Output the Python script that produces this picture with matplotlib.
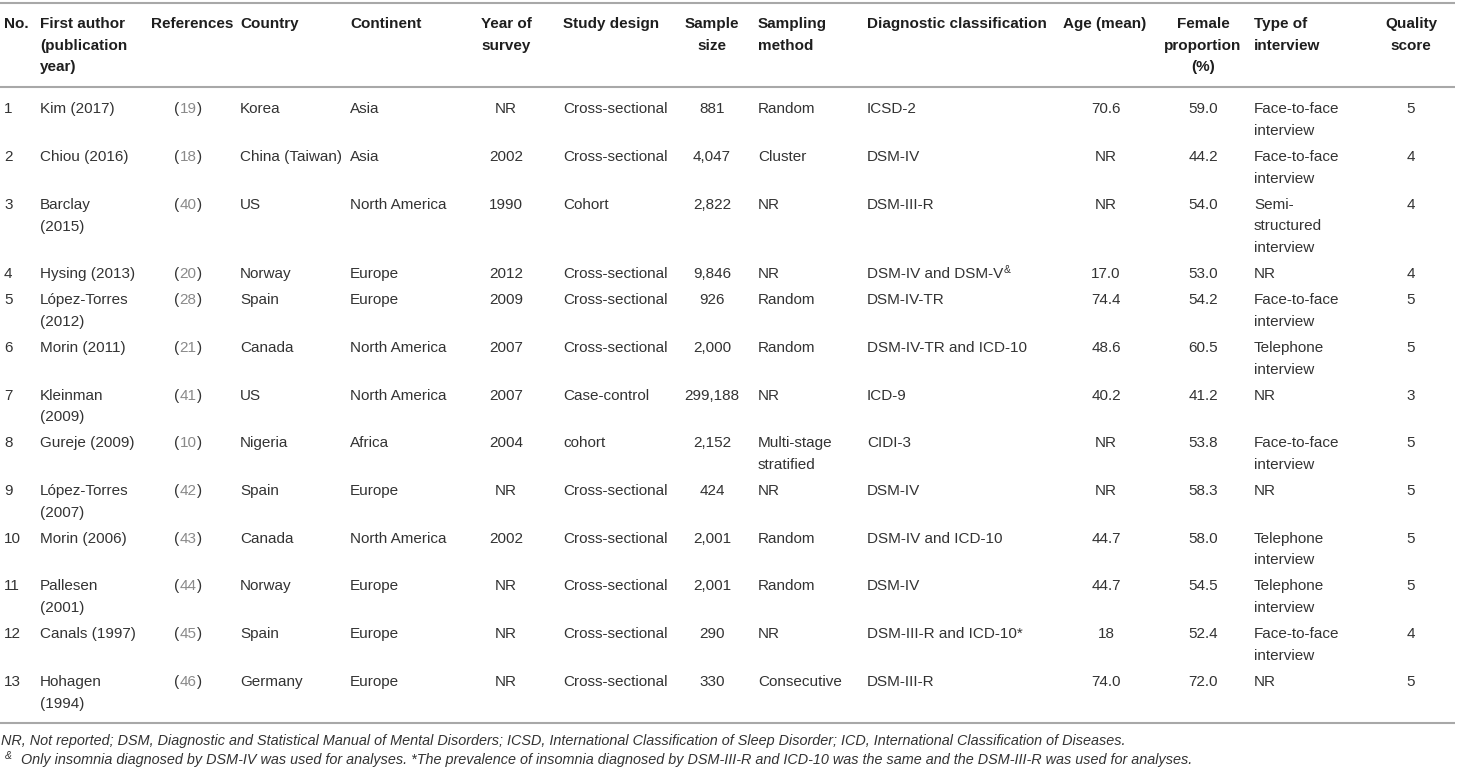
import matplotlib
matplotlib.use("Agg")
import matplotlib.pyplot as plt

# ---------------- data ----------------
headers = ["No.", "First author\n(publication\nyear)", "References", "Country", "Continent",
           "Year of\nsurvey", "Study design", "Sample\nsize", "Sampling\nmethod",
           "Diagnostic classification", "Age (mean)", "Female\nproportion\n(%)",
           "Type of\ninterview", "Quality\nscore"]
nos = [str(i) for i in range(1, 14)]
authors = ["Kim (2017)", "Chiou (2016)", "Barclay\n(2015)", "Hysing (2013)", "López-Torres\n(2012)",
           "Morin (2011)", "Kleinman\n(2009)", "Gureje (2009)", "López-Torres\n(2007)", "Morin (2006)",
           "Pallesen\n(2001)", "Canals (1997)", "Hohagen\n(1994)"]
refs = ["19", "18", "40", "20", "28", "21", "41", "10", "42", "43", "44", "45", "46"]
countries = ["Korea", "China (Taiwan)", "US", "Norway", "Spain", "Canada", "US", "Nigeria", "Spain",
             "Canada", "Norway", "Spain", "Germany"]
continents = ["Asia", "Asia", "North America", "Europe", "Europe", "North America", "North America",
              "Africa", "Europe", "North America", "Europe", "Europe", "Europe"]
years = ["NR", "2002", "1990", "2012", "2009", "2007", "2007", "2004", "NR", "2002", "NR", "NR", "NR"]
designs = ["Cross-sectional", "Cross-sectional", "Cohort", "Cross-sectional", "Cross-sectional",
           "Cross-sectional", "Case-control", "cohort", "Cross-sectional", "Cross-sectional",
           "Cross-sectional", "Cross-sectional", "Cross-sectional"]
samples = ["881", "4,047", "2,822", "9,846", "926", "2,000", "299,188", "2,152", "424", "2,001",
           "2,001", "290", "330"]
sampling = ["Random", "Cluster", "NR", "NR", "Random", "Random", "NR", "Multi-stage\nstratified", "NR",
            "Random", "Random", "NR", "Consecutive"]
diagnosis = ["ICSD-2", "DSM-IV", "DSM-III-R", "DSM-IV and DSM-V", "DSM-IV-TR", "DSM-IV-TR and ICD-10",
             "ICD-9", "CIDI-3", "DSM-IV", "DSM-IV and ICD-10", "DSM-IV", "DSM-III-R and ICD-10*",
             "DSM-III-R"]
diag_sup = ["", "", "", "&", "", "", "", "", "", "", "", "", ""]
ages = ["70.6", "NR", "NR", "17.0", "74.4", "48.6", "40.2", "NR", "NR", "44.7", "44.7", "18", "74.0"]
female = ["59.0", "44.2", "54.0", "53.0", "54.2", "60.5", "41.2", "53.8", "58.3", "58.0", "54.5",
          "52.4", "72.0"]
interview = ["Face-to-face\ninterview", "Face-to-face\ninterview", "Semi-\nstructured\ninterview", "NR",
             "Face-to-face\ninterview", "Telephone\ninterview", "NR", "Face-to-face\ninterview", "NR",
             "Telephone\ninterview", "Telephone\ninterview", "Face-to-face\ninterview", "NR"]
quality = ["5", "4", "4", "4", "5", "5", "3", "5", "5", "5", "5", "4", "5"]
footnote1 = ("NR, Not reported; DSM, Diagnostic and Statistical Manual of Mental Disorders; ICSD, "
             "International Classification of Sleep Disorder; ICD, International Classification of Diseases.")
footnote2 = ("Only insomnia diagnosed by DSM-IV was used for analyses. *The prevalence of insomnia diagnosed "
             "by DSM-III-R and ICD-10 was the same and the DSM-III-R was used for analyses.")

# ---------------- layout ----------------
W, H = 1458, 771
FONT = "Liberation Sans"
FS = 11
TXT = "#333333"
HDR = "#1e1e1e"
REFC = "#8a8a8a"
RULE = "#a8a8a8"
L = 21.7        # line spacing (px)
PAD = 4.3       # extra row padding (px)
BASE = 5.4      # baseline offset below line centre (px)

fig = plt.figure(figsize=(W / 100, H / 100), dpi=100)
ax = fig.add_axes([0, 0, 1, 1])
ax.set_xlim(0, W)
ax.set_ylim(H, 0)
ax.axis("off")

# column x positions & alignment: (header_x, header_ha, value_x, value_ha)
colpos = [(4, "left", 4, "left"), (40, "left", 40, "left"), (151, "left", 188, "center"),
          (240, "left", 240, "left"), (350, "left", 350, "left"), (506, "center", 506, "center"),
          (563, "left", 563, "left"), (712, "center", 712, "center"), (758, "left", 758, "left"),
          (867, "left", 867, "left"), (1105, "center", 1106, "center"), (1203, "center", 1203, "center"),
          (1254, "left", 1254, "left"), (1411, "center", 1411, "center")]


def put(x, yc, s, ha, color=TXT, weight="normal", fs=FS, style="normal", ls=L):
    arts = []
    for i, line in enumerate(s.split("\n")):
        arts.append(ax.text(x, yc + i * ls + BASE, line, ha=ha, va="baseline", color=color,
                            fontsize=fs, family=FONT, weight=weight, style=style))
    return arts


# rules
for y in (3, 87, 723):
    ax.plot([0, 1455], [y, y], color=RULE, lw=1.5, solid_capstyle="butt")

# header
for (hx, hha, _, _), h in zip(colpos, headers):
    put(hx, 23, h, hha, color=HDR, weight="bold", ls=21.3)

columns = [nos, authors, None, countries, continents, years, designs, samples, sampling,
           diagnosis, ages, female, interview, quality]

fig.canvas.draw()
r = fig.canvas.get_renderer()
inv = ax.transData.inverted()


def width_px(artist):
    bb = artist.get_window_extent(renderer=r)
    return bb.x0, bb.x1

yc = 108
sup_jobs = []
ref_jobs = []
for i in range(len(nos)):
    nlines = 1
    for ci, col in enumerate(columns):
        if col is None:
            continue
        _, _, vx, vha = colpos[ci]
        arts = put(vx, yc, col[i], vha)
        nlines = max(nlines, len(col[i].split("\n")))
        if col is diagnosis and diag_sup[i]:
            sup_jobs.append((arts[0], yc, diag_sup[i]))
    t = put(188, yc, refs[i], "center", color=REFC)[0]
    ref_jobs.append((t, yc))
    yc += nlines * L + PAD

fig.canvas.draw()
for t, y in ref_jobs:
    x0, x1 = width_px(t)
    dx0 = inv.transform((x0, 0))[0]
    dx1 = inv.transform((x1, 0))[0]
    ax.text(dx0, y + BASE, "(", ha="right", va="baseline", color=TXT, fontsize=FS, family=FONT)
    ax.text(dx1, y + BASE, ")", ha="left", va="baseline", color=TXT, fontsize=FS, family=FONT)
for t, y, s in sup_jobs:
    x0, x1 = width_px(t)
    dx1 = inv.transform((x1, 0))[0]
    ax.text(dx1 + 0.5, y + BASE - 5.5, s, ha="left", va="baseline", color=TXT, fontsize=7.5,
            family=FONT)

# footnotes
FFS = 10.4
put(1, 740, footnote1, "left", fs=FFS, style="italic")
ax.text(5, 759 + BASE - 5, "&", ha="left", va="baseline", color=TXT, fontsize=7.5, family=FONT,
        style="italic")
put(21, 759, footnote2, "left", fs=FFS, style="italic")

fig.savefig("out.png", dpi=100)
